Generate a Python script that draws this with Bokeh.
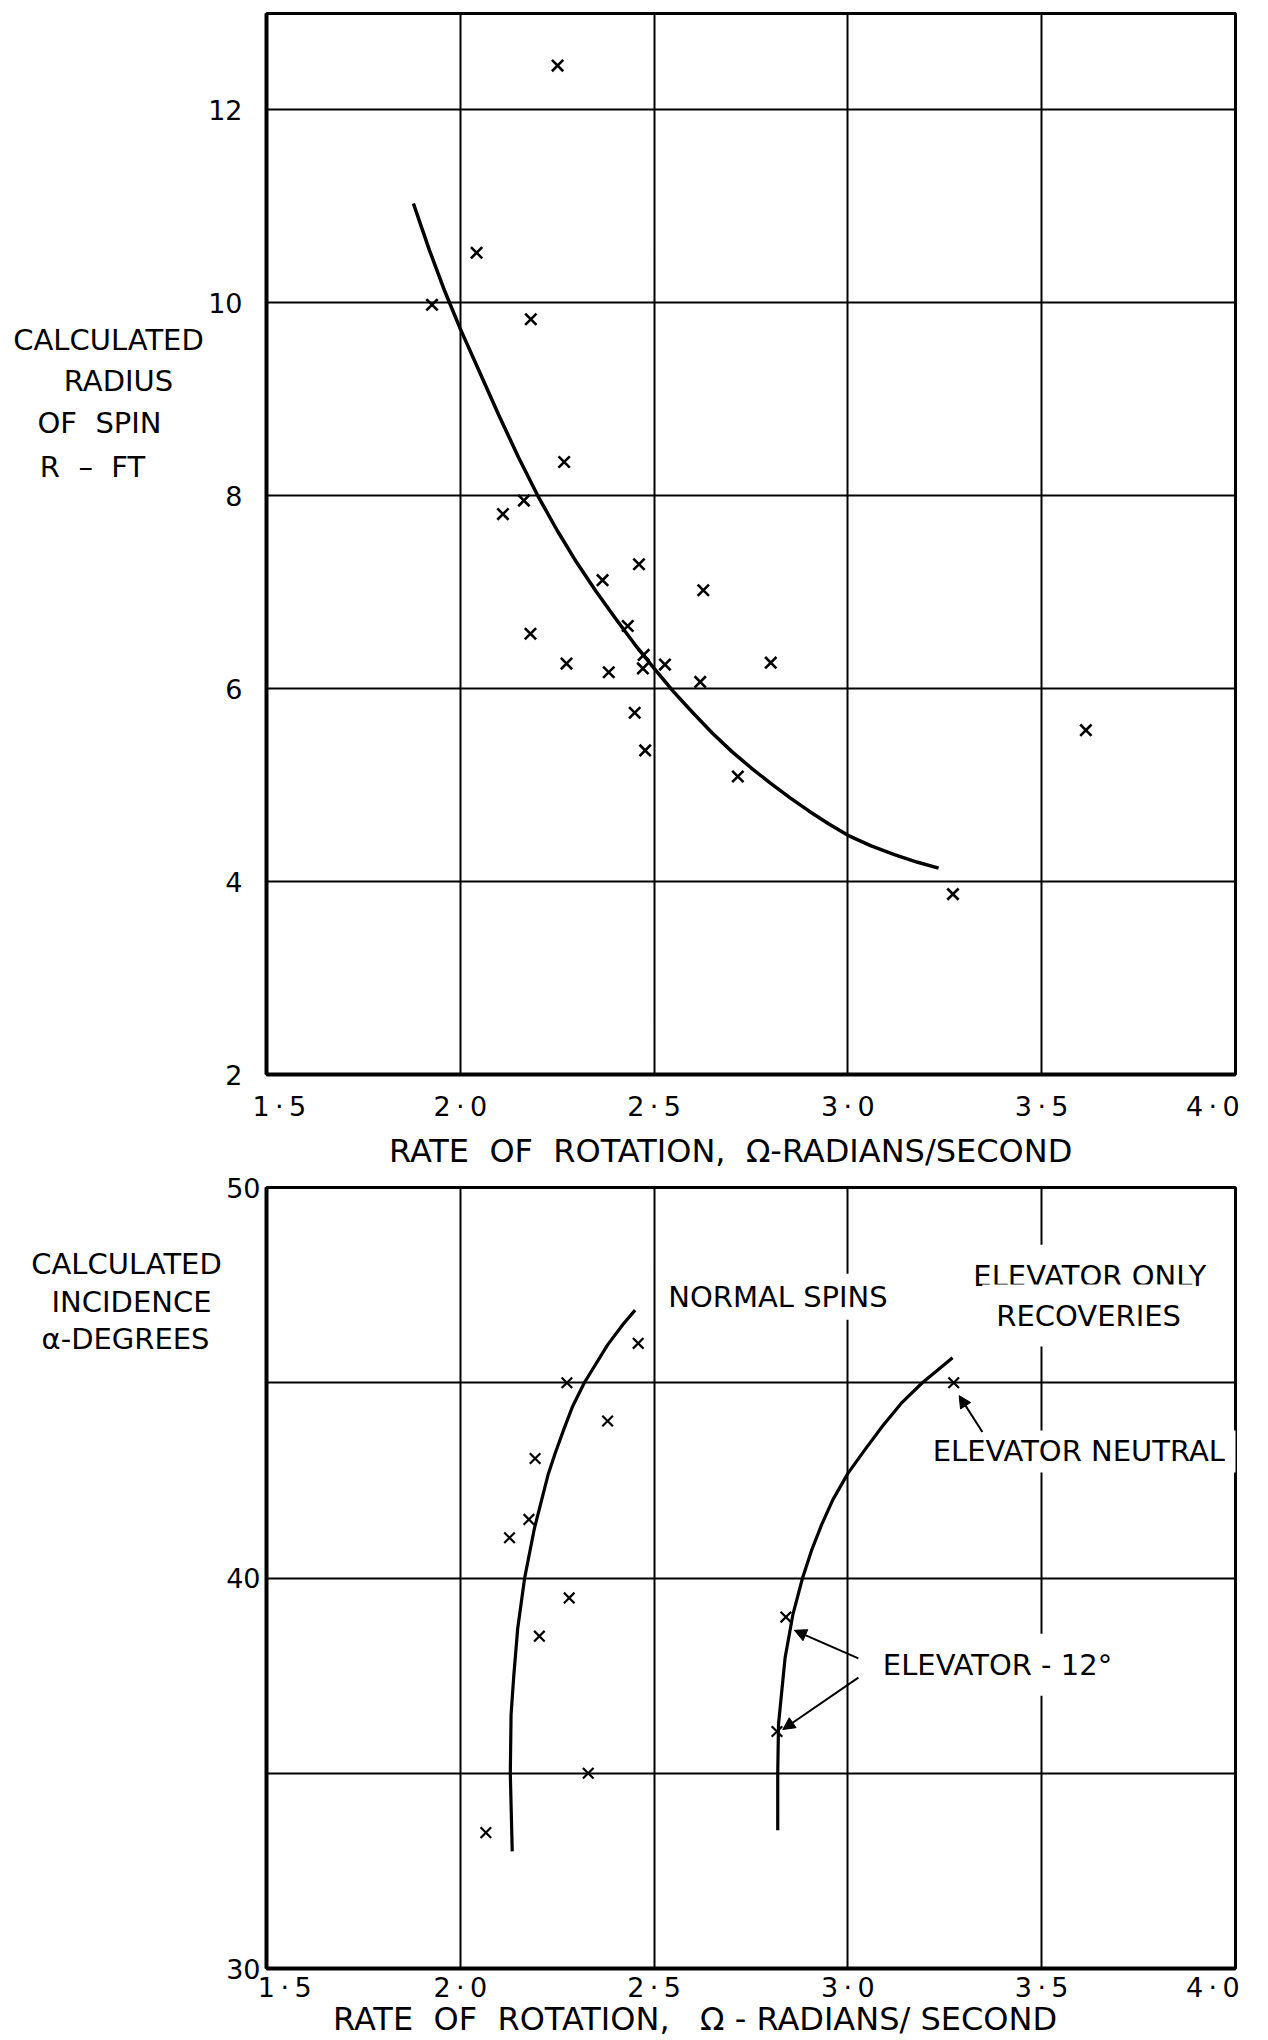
from bokeh.plotting import figure
from bokeh.layouts import column, row
from bokeh.models import Range1d, FixedTicker, Label, Arrow, NormalHead
from bokeh.core.properties import value
from bokeh.embed import file_html
from bokeh.resources import INLINE

FONT = "DejaVu Sans"
NB = "\u00a0"
TS = "\u2009"

# ---------------- data: upper chart (radius of spin) ----------------
spin_rate = [2.251, 2.042, 1.927, 2.182, 2.268, 2.164, 2.110, 2.461, 2.367, 2.627,
             2.181, 2.432, 2.473, 2.274, 2.383, 2.471, 2.528, 2.801, 2.619, 2.450,
             2.477, 2.716, 3.614, 3.271]
spin_radius = [12.46, 10.52, 9.98, 9.83, 8.35, 7.95, 7.81, 7.29, 7.125, 7.02,
               6.57, 6.65, 6.35, 6.26, 6.17, 6.21, 6.25, 6.27, 6.07, 5.75,
               5.36, 5.09, 5.57, 3.87]
fit_rate = [1.879, 1.920, 1.960, 2.000, 2.050, 2.100, 2.150, 2.200, 2.250, 2.300,
            2.350, 2.400, 2.450, 2.500, 2.550, 2.600, 2.650, 2.700, 2.750, 2.800,
            2.850, 2.900, 2.950, 3.000, 3.060, 3.120, 3.180, 3.234]
fit_radius = [11.03, 10.55, 10.12, 9.73, 9.28, 8.83, 8.40, 8.00, 7.64, 7.31,
              7.01, 6.73, 6.46, 6.21, 5.97, 5.75, 5.54, 5.35, 5.18, 5.02,
              4.87, 4.73, 4.60, 4.48, 4.37, 4.28, 4.20, 4.14]

# ---------------- data: lower chart (incidence) ----------------
normal_rate = [2.459, 2.275, 2.380, 2.193, 2.177, 2.127, 2.281, 2.204, 2.330, 2.066]
normal_alpha = [46.01, 45.00, 44.02, 43.06, 41.50, 41.03, 39.49, 38.51, 35.00, 33.48]
normal_curve_rate = [2.451, 2.420, 2.380, 2.320, 2.290, 2.268, 2.245, 2.226, 2.191,
                     2.166, 2.148, 2.138, 2.131, 2.129, 2.134]
normal_curve_alpha = [46.86, 46.50, 45.97, 45.00, 44.40, 43.83, 43.20, 42.63, 41.26,
                      40.00, 38.70, 37.50, 36.50, 35.00, 33.00]
neutral_rate = [3.273]
neutral_alpha = [45.0]
elev12_rate = [2.840, 2.817]
elev12_alpha = [39.0, 36.07]
recov_curve_rate = [3.270, 3.235, 3.192, 3.140, 3.090, 3.045, 3.000, 2.961, 2.932,
                    2.906, 2.883, 2.858, 2.838, 2.821, 2.819, 2.819]
recov_curve_alpha = [45.64, 45.35, 45.00, 44.50, 43.90, 43.30, 42.68, 42.00, 41.36,
                     40.70, 40.00, 39.06, 37.96, 36.26, 35.00, 33.54]

x_ticks = [1.5, 2.0, 2.5, 3.0, 3.5, 4.0]
x_tick_labels = ["1·5", "2·0", "2·5", "3·0", "3·5", "4·0"]
top_y_ticks = [2, 4, 6, 8, 10, 12]
bottom_y_ticks = [30, 40, 50]
bottom_y_grid = [35, 40, 45]

top_title_lines = ["CALCULATED", "RADIUS", "OF" + NB * 2 + "SPIN", "R" + NB * 2 + "–" + NB * 2 + "FT"]
bottom_title_lines = ["CALCULATED", "INCIDENCE", "α-DEGREES"]


def tick_text(t, s, lead):
    s = s.replace("·", TS + "·" + TS)
    if t == x_ticks[0]:
        return NB * lead + s
    if t == x_ticks[-1]:
        return s + NB * 3
    return s


def style(p, lead):
    p.background_fill_color = "white"
    p.border_fill_color = "white"
    p.outline_line_color = "black"
    p.outline_line_width = 3
    for ax in (p.xaxis[0], p.yaxis[0]):
        ax.axis_line_color = "black"
        ax.axis_line_width = 4
        ax.major_tick_line_color = None
        ax.minor_tick_line_color = None
        ax.major_tick_out = 0
        ax.major_tick_in = 0
        ax.minor_tick_out = 0
        ax.major_label_text_font = FONT
        ax.major_label_text_font_size = "27px"
        ax.major_label_text_color = "black"
        ax.axis_label_text_font = FONT
        ax.axis_label_text_font_size = "32px"
        ax.axis_label_text_font_style = "normal"
        ax.axis_label_text_color = "black"
    p.xaxis.ticker = FixedTicker(ticks=x_ticks)
    p.xaxis.major_label_overrides = {t: tick_text(t, s, lead) for t, s in zip(x_ticks, x_tick_labels)}
    for g in (p.xgrid[0], p.ygrid[0]):
        g.grid_line_color = "black"
        g.grid_line_width = 2
        g.grid_line_alpha = 1.0


def title_fig(width, height, yr, top, bottom):
    t = figure(width=width, height=height, x_range=Range1d(0, width), y_range=yr,
               output_backend="svg", toolbar_location=None,
               x_axis_location=None, y_axis_location=None,
               min_border_left=0, min_border_right=0,
               min_border_top=top, min_border_bottom=bottom)
    t.outline_line_color = None
    t.background_fill_color = "white"
    t.border_fill_color = "white"
    t.grid.visible = False
    return t


def txt(p, x, y, s, align="left", size="29px", pad=None):
    lab = Label(x=x, y=y, text=s, text_font=FONT, text_font_size=size,
                text_align=align, text_baseline="middle", text_color="black")
    if pad is not None:
        lab.background_fill_color = "white"
        lab.padding = pad
    p.add_layout(lab)


# ---------------- upper figure ----------------
H1 = 1172
t1 = title_fig(205, H1, Range1d(2, 13), 13, 92)
t1.text(x=[108, 118, 99, 92], y=[9.62, 9.19, 8.75, 8.30], text=top_title_lines,
        text_font=value(FONT), text_font_size=value("29px"),
        text_align="center", text_baseline="middle", text_color="black")

p1 = figure(width=1060, height=H1, x_range=Range1d(1.5, 4.0), y_range=Range1d(2, 13),
            output_backend="svg", toolbar_location=None,
            min_border_left=60, min_border_right=30, min_border_top=13, min_border_bottom=92)
style(p1, 3)
p1.yaxis.ticker = FixedTicker(ticks=top_y_ticks)
p1.yaxis.major_label_standoff = 24
p1.xaxis.major_label_standoff = 16
p1.xaxis.axis_label = ("RATE" + NB * 2 + "OF" + NB * 2 + "ROTATION," + NB * 2 +
                       "Ω-RADIANS/SECOND" + NB * 4)
p1.xaxis.axis_label_standoff = 7

p1.line(fit_rate, fit_radius, line_color="black", line_width=3.5, line_join="round")
p1.scatter(spin_rate, spin_radius, marker="x", size=16, line_color="black", line_width=2.6)

# ---------------- lower figure ----------------
H2 = 868
t2 = title_fig(223, H2, Range1d(30, 50), 15, 66)
t2.text(x=[126, 131, 125], y=[48.04, 47.08, 46.12], text=bottom_title_lines,
        text_font=value(FONT), text_font_size=value("29px"),
        text_align="center", text_baseline="middle", text_color="black")

p2 = figure(width=1042, height=H2, x_range=Range1d(1.5, 4.0), y_range=Range1d(30, 50),
            output_backend="svg", toolbar_location=None,
            min_border_left=42, min_border_right=30, min_border_top=15, min_border_bottom=66)
style(p2, 4)
p2.yaxis.ticker = FixedTicker(ticks=bottom_y_ticks)
p2.ygrid.ticker = FixedTicker(ticks=bottom_y_grid)
p2.yaxis.major_label_standoff = 6
p2.xaxis.major_label_standoff = 3
p2.xaxis.axis_label = ("RATE" + NB * 2 + "OF" + NB * 2 + "ROTATION," + NB * 3 +
                       "Ω" + NB + "-" + NB + "RADIANS/" + NB + "SECOND" + NB * 11)
p2.xaxis.axis_label_standoff = -6

p2.line(normal_curve_rate, normal_curve_alpha, line_color="black", line_width=3.2, line_join="round")
p2.line(recov_curve_rate, recov_curve_alpha, line_color="black", line_width=3.2, line_join="round")
p2.scatter(normal_rate, normal_alpha, marker="x", size=15, line_color="black", line_width=2.2)
p2.scatter(neutral_rate, neutral_alpha, marker="x", size=15, line_color="black", line_width=2.2)
p2.scatter(elev12_rate, elev12_alpha, marker="x", size=15, line_color="black", line_width=2.2)

txt(p2, 2.521, 47.20, "NORMAL SPINS", pad=6)
txt(p2, 3.624, 47.74, "ELEVATOR ONLY", align="center", pad=14)
txt(p2, 3.621, 46.72, "RECOVERIES", align="center", pad=14)
txt(p2, 3.188, 43.24, "ELEVATOR NEUTRAL", pad=(12, 4))
txt(p2, 3.054, 37.78, "ELEVATOR - 12°", pad=14)

for (xs, ys, xe, ye) in [(3.347, 43.74, 3.287, 44.67),
                         (3.027, 37.94, 2.862, 38.66),
                         (3.027, 37.45, 2.832, 36.12)]:
    p2.add_layout(Arrow(x_start=xs, y_start=ys, x_end=xe, y_end=ye,
                        line_color="black", line_width=2,
                        end=NormalHead(size=12, fill_color="black", line_color="black", line_width=1)))

layout = column(row(t1, p1, spacing=0), row(t2, p2, spacing=0), spacing=0)
open("out.html", "w").write(file_html(layout, INLINE))
